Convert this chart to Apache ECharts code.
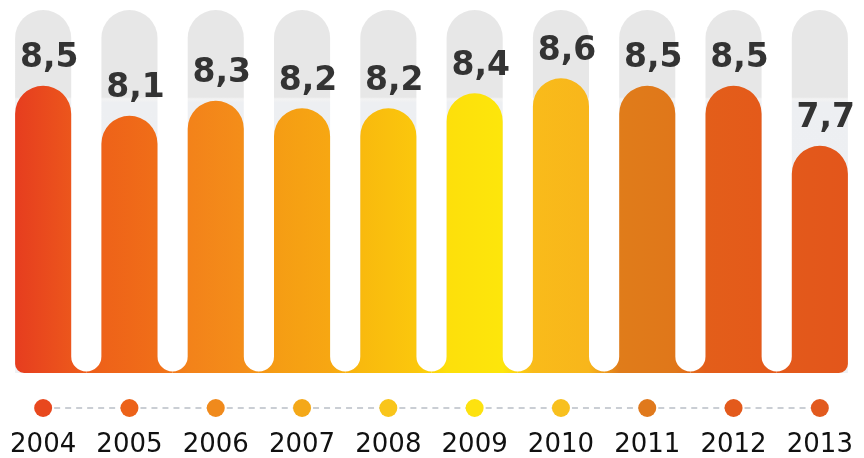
<!DOCTYPE html>
<html>
<head>
<meta charset="utf-8">
<script src="https://cdn.jsdelivr.net/npm/echarts@6/dist/echarts.min.js"></script>
<style>
html,body{margin:0;padding:0;background:#fff;}
#chart{width:864px;height:458px;}
</style>
</head>
<body>
<div id="chart"></div>
<script>
// ---- data ----
const years = ['2004','2005','2006','2007','2008','2009','2010','2011','2012','2013'];
const values = [8.5, 8.1, 8.3, 8.2, 8.2, 8.4, 8.6, 8.5, 8.5, 7.7];
// ---- palette (left / right edge colour of each bar, dot colour) ----
const leftColors  = ['#e63d1f','#ee6219','#f3821a','#f59c14','#f9b90e','#fddf0b','#f9bb1a','#e07c1a','#e35e1a','#e3591b'];
const rightColors = ['#ec561c','#f06e18','#f48e19','#f7a712','#fbc70c','#fde60b','#f8b61b','#e0771a','#e45a1a','#e3561b'];
const dotColors   = ['#e8481e','#ec6219','#f08a1c','#f4a818','#f9c51a','#fde20f','#f8c01e','#e0791c','#e35a1c','#e25a1e'];

const Y_MIN = 4.67, Y_MAX = 9.51;
const chart = echarts.init(document.getElementById('chart'));

function renderItem(params, api) {
  const i = params.dataIndex;
  const n = years.length;
  const v = api.value(1);
  const topPt = api.coord([i, v]);
  const basePt = api.coord([i, Y_MIN]);
  const maxPt = api.coord([i, Y_MAX]);
  const catW = api.size([1, 0])[0];
  const w = catW * 0.65;
  const cx = topPt[0], top = topPt[1], yb = basePt[1];
  const r = w / 2, L = cx - w / 2, R = cx + w / 2;
  const g = (catW - w) / 2, hl = cx - catW / 2, hr = cx + catW / 2;
  const yc = yb - 1.5 - g;
  const rc = 9;

  // global horizontal gradient: near-uniform bars, blending in the joined feet
  const x0 = api.coord([0, Y_MIN])[0] - w / 2;
  const x1 = api.coord([n - 1, Y_MIN])[0] + w / 2;
  const stops = [];
  for (let j = 0; j < n; j++) {
    const xj = api.coord([j, Y_MIN])[0];
    stops.push({offset: Math.min(1, Math.max(0, (xj - w / 2 - x0) / (x1 - x0))), color: leftColors[j]});
    stops.push({offset: Math.min(1, Math.max(0, (xj + w / 2 - x0) / (x1 - x0))), color: rightColors[j]});
  }
  const grad = {type: 'linear', x: x0, y: 0, x2: x1, y2: 0, global: true, colorStops: stops};

  let p = `M ${L} ${top + r} `;
  if (i === 0) {
    p += `L ${L} ${yb - rc} A ${rc} ${rc} 0 0 0 ${L + rc} ${yb} `;
  } else {
    p += `L ${L} ${yc} A ${g} ${g} 0 0 1 ${hl} ${yc + g} L ${hl} ${yb} `;
  }
  if (i === n - 1) {
    p += `L ${R - rc} ${yb} A ${rc} ${rc} 0 0 0 ${R} ${yb - rc} `;
  } else {
    p += `L ${hr} ${yb} L ${hr} ${yc + g} A ${g} ${g} 0 0 1 ${R} ${yc} `;
  }
  p += `L ${R} ${top + r} A ${r} ${r} 0 0 0 ${L} ${top + r} Z`;

  const gtop = maxPt[1];
  const gp = `M ${L} ${yb} L ${L} ${gtop + r} A ${r} ${r} 0 0 1 ${R} ${gtop + r} L ${R} ${yb} Z`;

  const dotY = yb + 35;
  const children = [
    {
      type: 'path',
      shape: {pathData: gp},
      style: {fill: {type: 'linear', x: 0, y: 0, x2: 0, y2: 1, colorStops: [
        {offset: 0, color: '#e7e7e7'}, {offset: 0.24, color: '#e7e7e7'},
        {offset: 0.245, color: '#f3f3f3'}, {offset: 0.255, color: '#edeff2'}, {offset: 1, color: '#eef0f3'}
      ]}}
    },
    {type: 'path', shape: {pathData: p}, style: {fill: grad}},
    {
      type: 'text',
      x: cx + 6, y: top - 27,
      style: {
        text: String(v).replace('.', ','),
        fill: '#333333',
        font: 'bold 33px "DejaVu Sans"',
        align: 'center', verticalAlign: 'middle'
      }
    }
  ];
  if (i < n - 1) {
    const nx = api.coord([i + 1, Y_MIN])[0];
    children.push({
      type: 'line',
      shape: {x1: cx, y1: dotY, x2: nx, y2: dotY},
      style: {stroke: '#b9bfc6', lineWidth: 1.5, lineDash: [6, 5]}
    });
  }
  children.push({
    type: 'circle',
    shape: {cx: cx, cy: dotY, r: 9},
    style: {fill: dotColors[i]}
  });
  return {type: 'group', children: children};
}

chart.setOption({
  animation: false,
  backgroundColor: '#ffffff',
  grid: {left: -3, right: 1, top: 10, bottom: 85, containLabel: false},
  xAxis: {
    type: 'category',
    data: years,
    axisLine: {show: false},
    axisTick: {show: false},
    splitLine: {show: false},
    axisLabel: {
      margin: 59,
      fontSize: 26,
      fontFamily: 'DejaVu Sans',
      color: '#111111',
      interval: 0
    }
  },
  yAxis: {type: 'value', min: Y_MIN, max: Y_MAX, show: false, splitLine: {show: false}},
  series: [{
    type: 'custom',
    renderItem: renderItem,
    clip: false,
    data: values.map((v, i) => [i, v])
  }]
});
</script>
</body>
</html>
